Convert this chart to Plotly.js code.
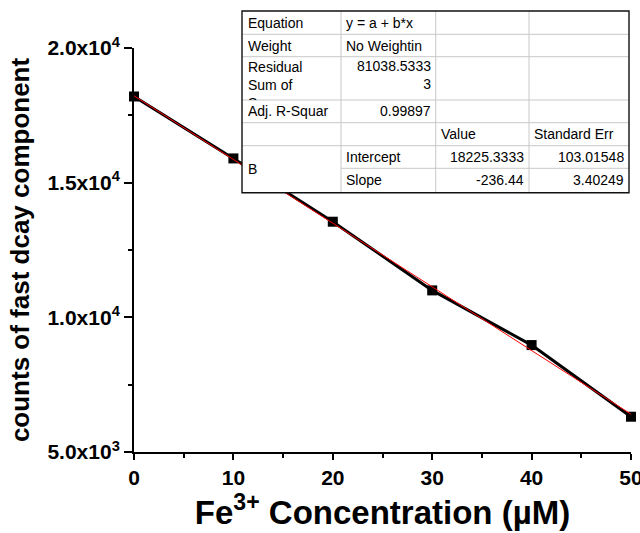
<!DOCTYPE html>
<html><head><meta charset="utf-8">
<script src="https://cdn.plot.ly/plotly-3.0.1.min.js"></script>
<style>html,body{margin:0;padding:0;background:#fff}</style>
</head><body><div id="chart" style="width:640px;height:533px"></div>
<script>
// ---- data ----
const concentration = [0, 10, 20, 30, 40, 50];
const counts = [18200, 15900, 13550, 11000, 8970, 6310];
const fitX = [0, 50];
const fitY = [18225.33, 6403.33];
const xTickVals = [0, 10, 20, 30, 40, 50];
const yTickVals = [5000, 10000, 15000, 20000];
const yTickText = ['5.0x10<sup>3</sup>', '1.0x10<sup>4</sup>', '1.5x10<sup>4</sup>', '2.0x10<sup>4</sup>'];

const tableLabels = ['Equation', 'Weight', 'Residual<br>Sum of<br>Squares', 'Adj. R-Squar'];
const tableValues = ['y = a + b*x', 'No Weightin', '81038.5333<br>3', '0.99897'];
const paramHeaders = ['Value', 'Standard Err'];
const paramGroup = 'B';
const paramNames = ['Intercept', 'Slope'];
const paramValues = ['18225.3333', '-236.44'];
const paramErrors = ['103.01548', '3.40249'];

// ---- geometry ----
const W = 640, H = 533, L = 134, R = 9, T = 48, B = 81;
const PW = W - L - R, PH = H - T - B;
const fx = p => (p - L) / PW;
const fy = p => (H - B - p) / PH;

const cols = [242, 341, 435.7, 529, 629];
const rows = [11, 34.3, 56.7, 100, 122.7, 145.7, 168.3, 192.7];

const shapes = [];
const ann = [];
const gray = '#c8c8c8';
shapes.push({type: 'rect', xref: 'paper', yref: 'paper', x0: fx(cols[0]), x1: fx(cols[4]), y0: fy(rows[0]), y1: fy(rows[7]),
  fillcolor: 'white', line: {width: 0}, layer: 'above'});
for (let i = 1; i < 4; i++) {
  shapes.push({type: 'line', xref: 'paper', yref: 'paper', x0: fx(cols[i]), x1: fx(cols[i]), y0: fy(rows[0]), y1: fy(rows[7]),
    line: {color: gray, width: 1}, layer: 'above'});
}
for (let j = 1; j < 6; j++) {
  shapes.push({type: 'line', xref: 'paper', yref: 'paper', x0: fx(cols[0]), x1: fx(cols[4]), y0: fy(rows[j]), y1: fy(rows[j]),
    line: {color: gray, width: 1}, layer: 'above'});
}
shapes.push({type: 'line', xref: 'paper', yref: 'paper', x0: fx(cols[1]), x1: fx(cols[4]), y0: fy(rows[6]), y1: fy(rows[6]),
  line: {color: gray, width: 1}, layer: 'above'});
shapes.push({type: 'rect', xref: 'paper', yref: 'paper', x0: fx(cols[0]), x1: fx(cols[4]), y0: fy(rows[0]), y1: fy(rows[7]),
  line: {color: '#111', width: 1.4}, layer: 'above'});

const tfont = {family: 'Liberation Sans, Arial, sans-serif', size: 14, color: '#000'};
function cell(text, px, py, xa, ya, extra) {
  ann.push(Object.assign({text: text, x: fx(px), y: fy(py), xref: 'paper', yref: 'paper', xanchor: xa, yanchor: ya,
    showarrow: false, font: tfont, align: xa === 'right' ? 'right' : 'left'}, extra || {}));
}
const mid = j => (rows[j] + rows[j + 1]) / 2;
// label column
[0, 1, 3].forEach(j => cell(tableLabels[j], cols[0] + 4, mid(j), 'left', 'middle'));
cell(tableLabels[2], cols[0] + 4, rows[2] + 0.5, 'left', 'top', {height: 41, valign: 'top'});
// value column
cell(tableValues[0], cols[1] + 3, mid(0), 'left', 'middle');
cell(tableValues[1], cols[1] + 3, mid(1), 'left', 'middle');
cell(tableValues[2], cols[2] - 3, rows[2] - 0.5, 'right', 'top', {height: 40, valign: 'top'});
cell(tableValues[3], cols[2] - 3, mid(3), 'right', 'middle');
// headers
cell(paramHeaders[0], cols[2] + 3, mid(4), 'left', 'middle');
cell(paramHeaders[1], cols[3] + 3, mid(4), 'left', 'middle');
cell(paramGroup, cols[0] + 4, (rows[5] + rows[7]) / 2, 'left', 'middle');
for (let k = 0; k < 2; k++) {
  cell(paramNames[k], cols[1] + 3, mid(5 + k), 'left', 'middle');
  cell(paramValues[k], cols[3] - 3, mid(5 + k), 'right', 'middle');
  cell(paramErrors[k], cols[4] - 3, mid(5 + k), 'right', 'middle');
}

const traces = [
  {x: concentration, y: counts, type: 'scatter', mode: 'lines+markers',
   line: {color: '#000', width: 3}, marker: {symbol: 'square', size: 10, color: '#000'}, cliponaxis: false},
  {x: fitX, y: fitY, type: 'scatter', mode: 'lines', line: {color: '#ff0000', width: 1}, cliponaxis: false}
];

const axFont = {family: 'Liberation Sans, Arial, sans-serif', size: 21, color: '#000', weight: 'bold'};
const layout = {
  width: W, height: H, margin: {l: L, r: R, t: T, b: B, pad: 0},
  paper_bgcolor: '#fff', plot_bgcolor: '#fff', showlegend: false,
  xaxis: {range: [0, 50], tickmode: 'array', tickvals: xTickVals, ticks: 'outside', ticklen: 6, tickwidth: 2,
    tickcolor: '#000', showline: true, linecolor: '#000', linewidth: 2, showgrid: false, zeroline: false,
    tickfont: axFont, ticklabeloverflow: 'allow',
    minor: {tick0: 0, dtick: 5, ticks: 'outside', ticklen: 4, tickwidth: 2, tickcolor: '#000', showgrid: false},
    title: {text: 'Fe<sup>3+</sup> Concentration (µM)', standoff: 13,
      font: {family: 'Liberation Sans, Arial, sans-serif', size: 33, color: '#000', weight: 'bold'}}},
  yaxis: {range: [5000, 20000], tickmode: 'array', tickvals: yTickVals, ticktext: yTickText, ticks: 'outside',
    ticklen: 8, tickwidth: 2, tickcolor: '#000', showline: true, linecolor: '#000', linewidth: 2,
    showgrid: false, zeroline: false, tickfont: axFont, ticklabeloverflow: 'allow',
    minor: {tick0: 0, dtick: 2500, ticks: 'outside', ticklen: 4, tickwidth: 2, tickcolor: '#000', showgrid: false},
    title: {text: 'counts of fast dcay component', standoff: 10,
      font: {family: 'Liberation Sans, Arial, sans-serif', size: 26, color: '#000', weight: 'bold'}}},
  shapes: shapes, annotations: ann
};
Plotly.newPlot('chart', traces, layout, {displayModeBar: false, staticPlot: true});
</script></body></html>
